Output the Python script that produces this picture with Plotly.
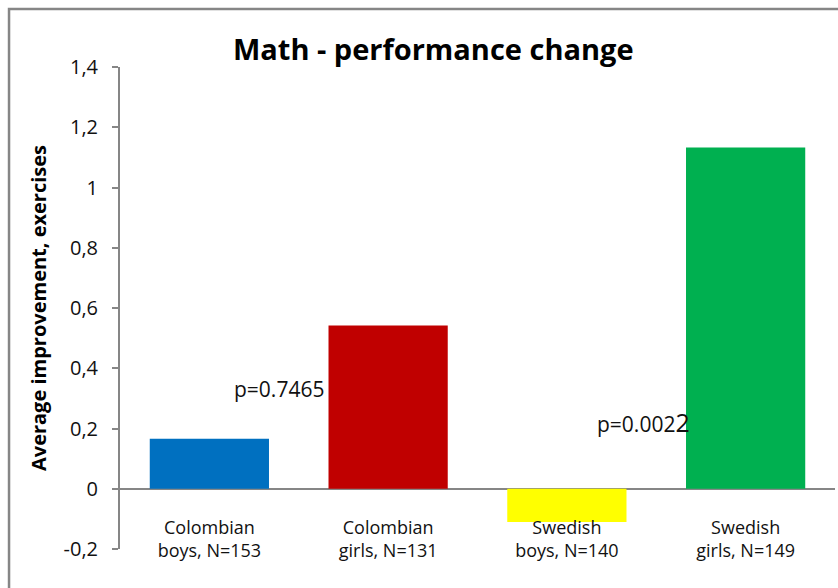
import plotly.graph_objects as go

# bar values
categories = ['Colombian<br>boys, N=153', 'Colombian<br>girls, N=131',
              'Swedish<br>boys, N=140', 'Swedish<br>girls, N=149']
values = [0.166, 0.542, -0.11, 1.133]
colors = ['#0070C0', '#C00000', '#FFFF00', '#00B050']

y_ticks = [-0.2, 0, 0.2, 0.4, 0.6, 0.8, 1, 1.2, 1.4]
y_ticklabels = ['-0,2', '0', '0,2', '0,4', '0,6', '0,8', '1', '1,2', '1,4']

# p-value notes: (category position, y value, text)
p_notes = [(0.39, 0.33, 'p=0.7465'),
           (2.43, 0.222, 'p=0.002<span style="font-size:25px">2</span>')]

font = 'Open Sans, Noto Sans, sans-serif'
grey = '#868686'

fig = go.Figure(go.Bar(x=categories, y=values, marker_color=colors,
                       marker_line_width=0, width=0.667))

for xp, yp, txt in p_notes:
    fig.add_annotation(x=xp, y=yp, text=txt, showarrow=False,
                       font=dict(size=21, color='#111111', family=font))

# outer chart border (runs off the right and bottom edge)
fig.add_shape(type='rect', xref='paper', yref='paper',
              x0=-0.1552, x1=1.2, y0=-0.3, y1=1.1203,
              line=dict(color=grey, width=2.5), fillcolor='rgba(0,0,0,0)')

fig.update_layout(
    width=838, height=588,
    margin=dict(l=120, r=3, t=67, b=39, autoexpand=False),
    paper_bgcolor='white', plot_bgcolor='white',
    showlegend=False,
    title=dict(text='<b>Math - performance change</b>', x=0.517, xanchor='center',
               y=0.915, yanchor='middle',
               font=dict(size=29, color='black', family=font)),
    font=dict(family=font, color='#111111'),
)

fig.update_xaxes(anchor='free', position=0.0705, showline=False, ticks='',
                 automargin=False,
                 range=[-0.5, 3.5], tickfont=dict(size=18, color='#111111'),
                 showgrid=False, zeroline=False)
fig.update_yaxes(range=[-0.2, 1.4], tickvals=y_ticks, ticktext=y_ticklabels,
                 automargin=False,
                 showline=True, linecolor=grey, linewidth=2, ticks='outside',
                 ticklen=6, tickcolor=grey, tickwidth=2, showgrid=False,
                 ticklabelstandoff=10,
                 zeroline=True, zerolinecolor=grey, zerolinewidth=2,
                 tickfont=dict(size=20, color='#111111'),
                 title=dict(text='<b>Average improvement, exercises</b>', standoff=12,
                            font=dict(size=20, color='black')))

# drop the default page margin so the figure sits at the window's corner
fig.write_html("out.html", config={'displayModeBar': False},
               post_script="document.body.style.margin = '0';")
